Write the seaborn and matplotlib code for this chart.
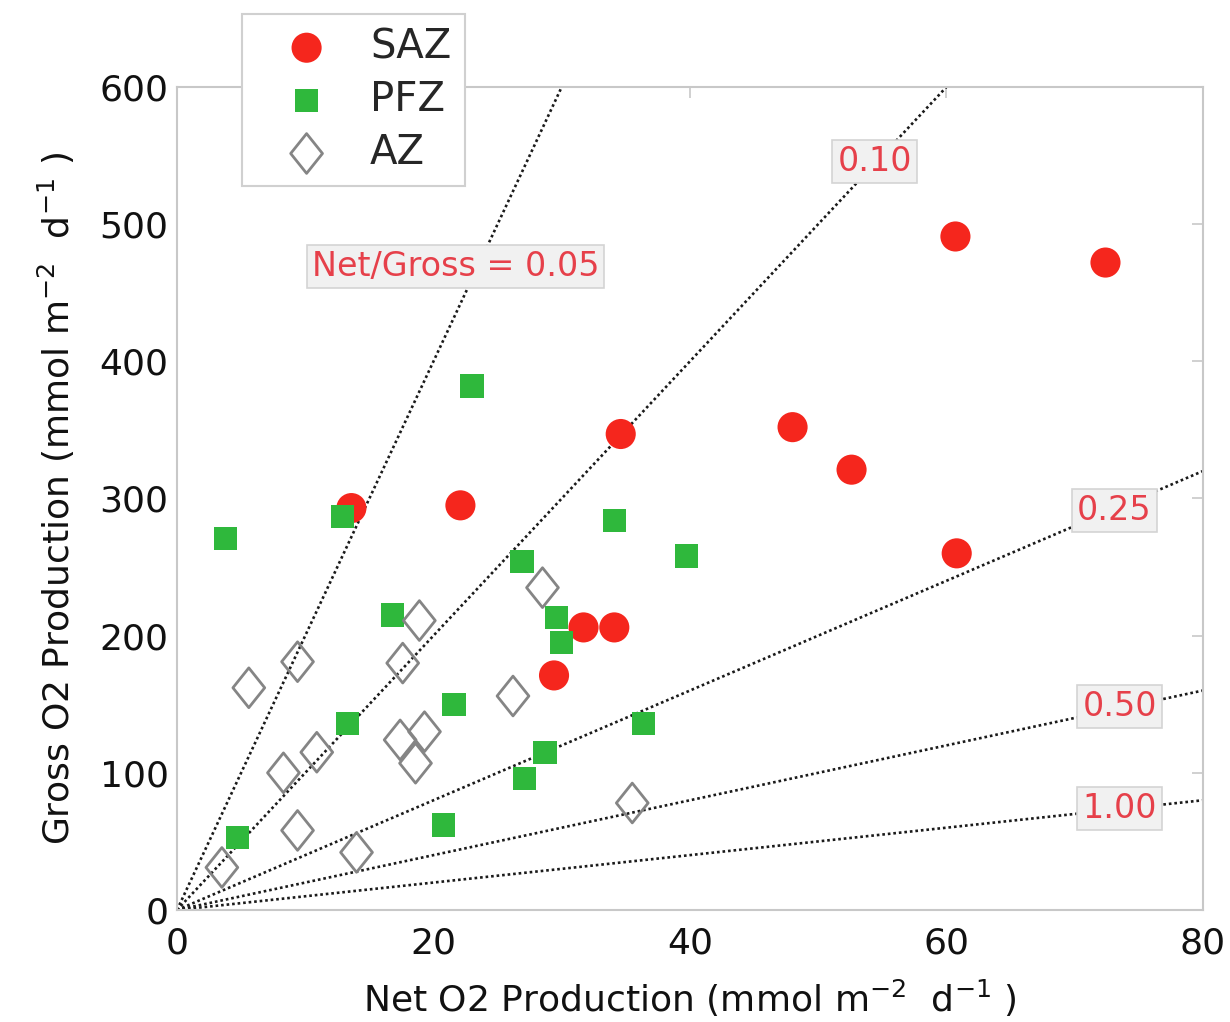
import numpy as np
import matplotlib
matplotlib.use("Agg")
import matplotlib.pyplot as plt
from matplotlib.path import Path
import seaborn as sns

# Net vs gross O2 production by frontal zone (mmol m-2 d-1)
saz_net = [60.7, 72.4, 34.6, 48.0, 52.6, 60.8, 13.6, 22.1, 31.7, 34.1, 29.4]
saz_gross = [491, 472, 347, 352, 321, 260, 293, 295, 206, 206, 171]

pfz_net = [23.0, 3.8, 12.9, 34.1, 39.7, 26.9, 16.8, 29.6, 30.0, 21.6, 13.3,
           36.4, 28.7, 27.1, 4.7, 20.8]
pfz_gross = [382, 271, 287, 284, 258, 254, 215, 213, 195, 150, 136,
             136, 115, 96, 53, 62]

az_net = [5.6, 9.4, 18.9, 17.6, 28.5, 26.2, 10.9, 8.3, 17.4, 19.3, 18.6,
          9.4, 14.0, 3.5, 35.5]
az_gross = [162, 181, 211, 180, 235, 156, 115, 100, 124, 130, 107,
            58, 42, 31, 78]

# Net/Gross reference ratios and where their labels sit
ratios = [0.05, 0.10, 0.25, 0.50, 1.00]
ratio_labels = ["Net/Gross = 0.05", "0.10", "0.25", "0.50", "1.00"]
label_x = [21.7, 54.4, 73.1, 73.5, 73.5]
label_y = [469, 546, 291, 148, 74]

x_ticks = [0, 20, 40, 60, 80]
y_ticks = [0, 100, 200, 300, 400, 500, 600]

sns.set_style("white")
plt.rcParams["font.family"] = ["DejaVu Sans"]
plt.rcParams["mathtext.default"] = "regular"

fig = plt.figure(figsize=(12.3, 10.22), dpi=100)
ax = fig.add_axes([0.1439, 0.1096, 0.978 - 0.1439, 0.9149 - 0.1096])

# reference lines through the origin
for r in ratios:
    ax.axline((0, 0), slope=1.0 / r, color="#1a1a1a", linestyle=(0, (1, 1.1)),
              linewidth=1.9, zorder=1)

diamond = Path([(0, 1), (0.8, 0), (0, -1), (-0.8, 0), (0, 1)],
               [Path.MOVETO, Path.LINETO, Path.LINETO, Path.LINETO, Path.CLOSEPOLY])

sns.scatterplot(x=saz_net, y=saz_gross, ax=ax, marker="o", s=470,
                color="#f5261d", edgecolor="none", linewidth=0, label="SAZ", zorder=3)
sns.scatterplot(x=pfz_net, y=pfz_gross, ax=ax, marker="s", s=280,
                color="#2fb83c", edgecolor="none", linewidth=0, label="PFZ", zorder=4)
sns.scatterplot(x=az_net, y=az_gross, ax=ax, marker=diamond, s=820,
                facecolor="none", edgecolor="#858585", linewidth=2.0, label="AZ", zorder=5)

for txt, lx, ly in zip(ratio_labels, label_x, label_y):
    ax.text(lx, ly, txt, color="#e6404a", fontsize=24, ha="center", va="center",
            zorder=6,
            bbox=dict(boxstyle="square,pad=0.15", fc="#f1f1f1", ec="#d4d4d4", lw=1.2))

ax.set_xlim(0, 80)
ax.set_ylim(0, 600)
ax.set_xticks(x_ticks)
ax.set_yticks(y_ticks)
ax.tick_params(axis="both", which="both", direction="in", length=8, width=1.2,
               color="#c8c8c8", labelsize=26, labelcolor="#111111",
               top=True, right=True, pad=6)
ax.tick_params(axis="x", pad=12)
for sp in ax.spines.values():
    sp.set_color("#c8c8c8")
    sp.set_linewidth(1.5)

ax.set_xlabel("Net O2 Production (mmol m$^{-2}$  d$^{-1}$ )", fontsize=26,
              color="#111111", labelpad=12)
ax.set_ylabel("Gross O2 Production (mmol m$^{-2}$  d$^{-1}$ )", fontsize=26,
              color="#111111", labelpad=16)

handles, labels = ax.get_legend_handles_labels()
ax.get_legend().remove()
leg = fig.legend(handles, labels, loc="upper left",
                 bbox_to_anchor=(0.1967, 0.9863), fontsize=29,
                 frameon=True, fancybox=False, edgecolor="#d0d0d0",
                 framealpha=1.0, borderpad=0.33, labelspacing=0.32,
                 handlelength=2.55, handletextpad=0.3, borderaxespad=0)
leg.get_frame().set_linewidth(1.5)
leg.set_zorder(10)

fig.savefig("out.png", dpi=100, facecolor="white")
